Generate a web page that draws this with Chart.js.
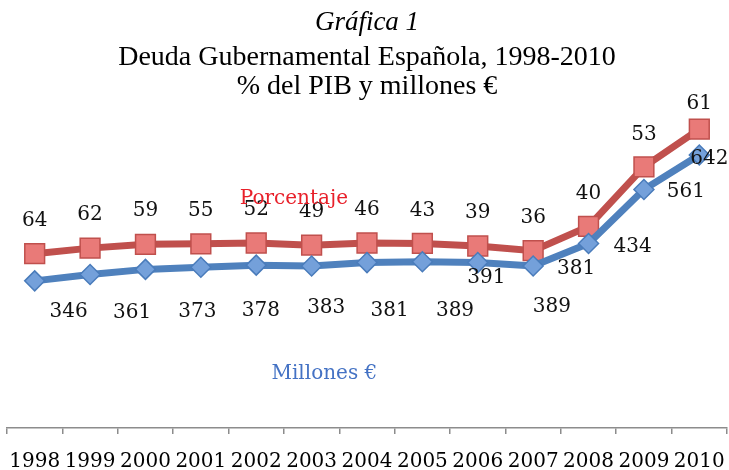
<!DOCTYPE html>
<html>
<head>
<meta charset="utf-8">
<script src="https://cdn.jsdelivr.net/npm/chart.js@4/dist/chart.umd.min.js"></script>
<style>
  html, body { margin: 0; padding: 0; background: #fff; }
  #wrap { width: 729px; height: 470px; }
</style>
</head>
<body>
<div id="wrap"><canvas id="deudaChart"></canvas></div>
<script>
let years = ['1998', '1999', '2000', '2001', '2002', '2003', '2004', '2005', '2006', '2007', '2008', '2009', '2010'];
let millones = [346, 361, 373, 378, 383, 381, 389, 391, 389, 381, 434, 561, 642];
let porcentaje = [64, 62, 59, 55, 52, 49, 46, 43, 39, 36, 40, 53, 61];

// hand-moved label spots, like in the original sheet
let blueLabelShift = [
  [34, 31], [42, 38], [52, 42], [60, 44], [70, 43], [78, 45], [88, 48],
  [64, 16], [74, 44], [43, 3], [44, 3], [42, 2], [10, 4]
];
let redLabelLift = [33, 33, 33, 33, 33, 33, 33, 33, 33, 33, 33, 32, 25];

let labelFont = '20px "DejaVu Serif"';

let labelsPlugin = {
  id: 'pointLabels',
  afterDatasetsDraw: function (chart) {
    let ctx = chart.ctx;
    ctx.save();
    ctx.font = labelFont;
    ctx.textAlign = 'center';
    ctx.textBaseline = 'middle';
    ctx.fillStyle = '#111';

    let blueMeta = chart.getDatasetMeta(0);
    blueMeta.data.forEach(function (pt, i) {
      ctx.fillText(millones[i], pt.x + blueLabelShift[i][0], pt.y + blueLabelShift[i][1]);
    });

    let redMeta = chart.getDatasetMeta(1);
    redMeta.data.forEach(function (pt, i) {
      ctx.fillText(porcentaje[i], pt.x, pt.y - redLabelLift[i]);
    });

    // series names written inside the plot
    let xs = chart.scales.x, ys = chart.scales.y;
    ctx.fillStyle = '#E8202A';
    ctx.fillText('Porcentaje', xs.getPixelForValue(4.68), ys.getPixelForValue(538));
    ctx.fillStyle = '#4472C4';
    ctx.fillText('Millones €', xs.getPixelForValue(5.23), ys.getPixelForValue(128));
    ctx.restore();
  }
};

let deudaData = {
  labels: years,
  datasets: [
    {
      label: 'Millones €',
      data: millones,
      borderColor: '#4F81BD',
      borderWidth: 7,
      pointStyle: 'rectRot',
      pointRadius: 10,
      pointBackgroundColor: '#74A0DA',
      pointBorderColor: '#4A7CBB',
      pointBorderWidth: 1.5,
      tension: 0,
      fill: false
    },
    {
      label: 'Porcentaje',
      data: porcentaje,
      borderColor: '#C0504D',
      borderWidth: 7,
      pointStyle: 'rect',
      pointRadius: 14,
      pointBackgroundColor: '#E97A78',
      pointBorderColor: '#C0504D',
      pointBorderWidth: 1.5,
      tension: 0,
      fill: false
    }
  ]
};

let deudaOptions = {
  responsive: true,
  maintainAspectRatio: false,
  animation: false,
  layout: {
    autoPadding: false,
    padding: { left: 7, right: 2, top: 0, bottom: 0 }
  },
  plugins: {
    legend: { display: false },
    tooltip: { enabled: false },
    title: {
      display: true,
      text: 'Gráfica 1',
      color: '#000',
      font: { family: '"Liberation Serif"', size: 27, style: 'italic', weight: 'normal', lineHeight: 1.2 },
      padding: { top: 7, bottom: 0 }
    },
    subtitle: {
      display: true,
      text: ['Deuda Gubernamental Española, 1998-2010', '% del PIB y millones €'],
      color: '#000',
      font: { family: '"Liberation Serif"', size: 28, weight: 'normal', lineHeight: 1.036 },
      padding: { top: 4, bottom: 0 }
    }
  },
  scales: {
    x: {
      offset: true,
      border: { display: true, color: '#8C8C8C', width: 1.5 },
      grid: { display: true, offset: true, drawOnChartArea: false, drawTicks: true, tickLength: 6, color: '#8C8C8C', lineWidth: 1.5 },
      ticks: {
        autoSkip: false,
        maxRotation: 0,
        color: '#000',
        padding: 18,
        font: { family: '"DejaVu Serif"', size: 20, lineHeight: 1 }
      },
      afterFit: function (scale) {
        scale.paddingLeft = 0;
        scale.paddingRight = 0;
        scale.height = 42;
      }
    },
    y: {
      display: false,
      stacked: true,
      min: 0,
      max: 768
    }
  }
};

new Chart(document.getElementById('deudaChart').getContext('2d'), {
  type: 'line',
  data: deudaData,
  options: deudaOptions,
  plugins: [labelsPlugin]
});
</script>
</body>
</html>
